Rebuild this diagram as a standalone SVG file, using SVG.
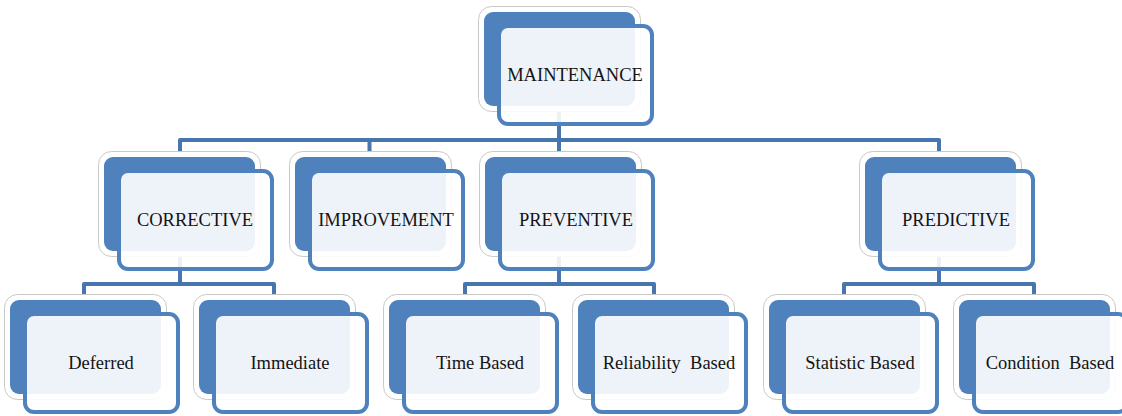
<svg xmlns="http://www.w3.org/2000/svg" width="1122" height="416" viewBox="0 0 1122 416">
<style>
.halo{fill:#ffffff;stroke:#c9c9c9;stroke-width:1}
.back{fill:#4F81BD}
.front{fill:#ffffff;fill-opacity:0.9;stroke:#4F81BD;stroke-width:4}
.lbl{font-family:"Liberation Serif","Times New Roman",serif;font-size:18.5px;fill:#141414;text-anchor:middle;white-space:pre}
.conn{fill:none;stroke:#4675AF;stroke-width:4;stroke-linejoin:round}
</style>
<defs>
<g id="card">
<rect class="halo" x="-5.5" y="-5.5" width="162" height="105" rx="13"/>
<rect class="back" x="0" y="0" width="151" height="94" rx="9"/>
<rect class="front" x="15" y="14" width="153" height="98" rx="9"/>
</g>
</defs>
<rect width="1122" height="416" fill="#ffffff"/>
<g id="connectors" class="conn">
<path d="M180,157 V140 H939 V157"/>
<path d="M369.5,140 V157"/>
<path d="M559,107 V157"/>
<path d="M180,250 V284"/>
<path d="M84,300 V284 H274 V300"/>
<path d="M559,250 V284"/>
<path d="M465,300 V284 H654 V300"/>
<path d="M939,250 V284"/>
<path d="M844,300 V284 H1034 V300"/>
</g>
<g id="maintenance" transform="translate(484,12)"><use href="#card"/><text class="lbl" x="91" y="69">MAINTENANCE</text></g>
<g id="corrective" transform="translate(104,157)"><use href="#card"/><text class="lbl" x="91" y="69">CORRECTIVE</text></g>
<g id="improvement" transform="translate(295,157)"><use href="#card"/><text class="lbl" x="91" y="69">IMPROVEMENT</text></g>
<g id="preventive" transform="translate(485,157)"><use href="#card"/><text class="lbl" x="91" y="69">PREVENTIVE</text></g>
<g id="predictive" transform="translate(865,157)"><use href="#card"/><text class="lbl" x="91" y="69">PREDICTIVE</text></g>
<g id="deferred" transform="translate(10,300)"><use href="#card"/><text class="lbl" x="91" y="69">Deferred</text></g>
<g id="immediate" transform="translate(199,300)"><use href="#card"/><text class="lbl" x="91" y="69">Immediate</text></g>
<g id="time-based" transform="translate(389,300)"><use href="#card"/><text class="lbl" x="91" y="69">Time Based</text></g>
<g id="reliability-based" transform="translate(578,300)"><use href="#card"/><text class="lbl" x="91" y="69">Reliability  Based</text></g>
<g id="statistic-based" transform="translate(769,300)"><use href="#card"/><text class="lbl" x="91" y="69">Statistic Based</text></g>
<g id="condition-based" transform="translate(959,300)"><use href="#card"/><text class="lbl" x="91" y="69">Condition  Based</text></g>
</svg>
